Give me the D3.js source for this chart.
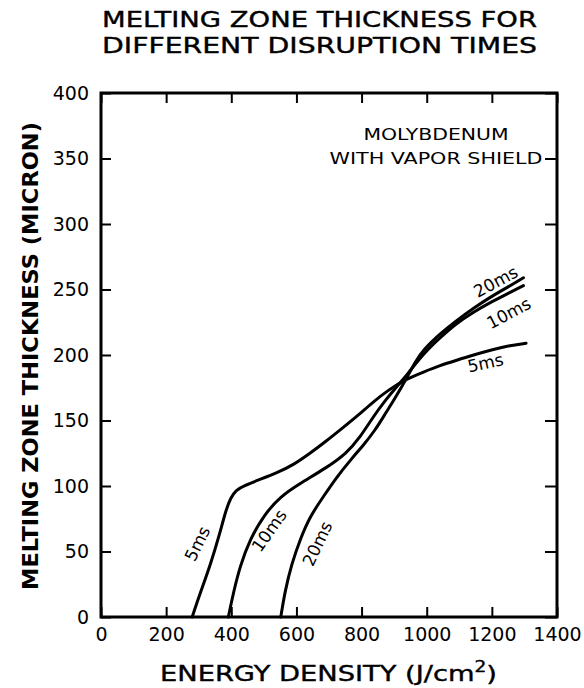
<!DOCTYPE html>
<html>
<head>
<meta charset="utf-8">
<script src="https://cdn.jsdelivr.net/npm/d3@7"></script>
<style>
    body { margin: 0; background: #fff; }
    svg text { font-family: "DejaVu Sans", sans-serif; fill: #000; }
</style>
</head>
<body>
<svg id="chart" width="584" height="688"></svg>
<script>
// data (energy density J/cm2, thickness micron)
const xTicks = [0, 200, 400, 600, 800, 1000, 1200, 1400];
const yTicks = [0, 50, 100, 150, 200, 250, 300, 350, 400];

const energy5 = [280, 304, 335, 365, 384, 398, 415, 437, 488, 540, 590, 642, 690, 740, 785, 835, 880, 940, 990, 1041, 1092, 1143, 1200, 1250, 1305];
const depth5 = [0, 18, 39, 64, 82, 91, 97, 100, 105, 110, 116, 125, 134, 144, 153, 164, 173, 182, 187, 192, 196, 200, 204, 207, 209];

const energy10 = [391, 406, 427, 457, 498, 550, 611, 693, 754, 795, 836, 875, 908, 940, 990, 1040, 1090, 1145, 1194, 1250, 1297];
const depth10 = [0, 18, 39, 59, 77, 92, 102, 114, 125, 137, 153, 166, 176, 185, 201, 213, 224, 233, 240, 247, 253];

const energy20 = [552, 565, 586, 611, 642, 683, 724, 770, 805, 840, 870, 905, 940, 965, 990, 1040, 1090, 1145, 1194, 1250, 1297];
const depth20 = [0, 20, 41, 59, 77, 92, 107, 121, 131, 142, 154, 168, 183, 195, 204, 216, 226, 236, 244, 252, 259];

const seriesNames = ['5ms', '10ms', '20ms'];

// curve labels: [text, energy, depth, angle]
const curveLabels = [
    ['5ms', 296, 56, -64],
    ['10ms', 516, 66, -55],
    ['20ms', 664, 56, -65],
    ['5ms', 1180, 194, -12],
    ['10ms', 1252, 232, -28],
    ['20ms', 1212, 256, -28]
];

const titleLines = ['MELTING ZONE THICKNESS FOR', 'DIFFERENT DISRUPTION TIMES'];
const legendLines = ['MOLYBDENUM', 'WITH VAPOR SHIELD'];

const margin = { top: 93, right: 27, bottom: 71, left: 101 };
const width = 584, height = 688;

const svg = d3.select('#chart');

const x = d3.scaleLinear()
    .domain([0, 1400])
    .range([margin.left, width - margin.right]);

const y = d3.scaleLinear()
    .domain([0, 400])
    .range([height - margin.bottom, margin.top]);

// title
svg.append('g')
    .selectAll('text')
    .data(titleLines)
    .join('text')
        .attr('x', 102)
        .attr('y', (d, i) => 27 + i * 26)
        .attr('textLength', 435)
        .attr('lengthAdjust', 'spacingAndGlyphs')
        .attr('font-size', 22)
        .attr('stroke', '#000')
        .attr('stroke-width', 0.4)
        .text(d => d);

// axes, ticks point inward
const bottomAxis = d3.axisBottom(x).tickValues(xTicks).tickFormat(d3.format('d')).tickSize(-10).tickPadding(11);
const leftAxis = d3.axisLeft(y).tickValues(yTicks).tickFormat(d3.format('d')).tickSize(-10).tickPadding(12);
const topAxis = d3.axisTop(x).tickValues(xTicks).tickSize(-10).tickFormat('');
const rightAxis = d3.axisRight(y).tickValues(yTicks).tickSize(-12).tickFormat('');

const axes = [
    [bottomAxis, `translate(0, ${y(0)})`],
    [leftAxis, `translate(${x(0)}, 0)`],
    [topAxis, `translate(0, ${y(400)})`],
    [rightAxis, `translate(${x(1400)}, 0)`]
];

axes.forEach(([axis, transform]) => {
    const g = svg.append('g')
        .attr('transform', transform)
        .call(axis);
    g.select('.domain').remove();
    g.selectAll('line').attr('stroke', '#000').attr('stroke-width', 2);
    g.selectAll('text')
        .attr('font-size', 19)
        .attr('font-family', '"DejaVu Sans", sans-serif')
        .attr('fill', '#000');
});

// frame
svg.append('rect')
    .attr('x', x(0))
    .attr('y', y(400))
    .attr('width', x(1400) - x(0))
    .attr('height', y(0) - y(400))
    .attr('fill', 'none')
    .attr('stroke', '#000')
    .attr('stroke-width', 3);

// axis titles
const xTitle = svg.append('text')
    .attr('x', 160)
    .attr('y', 681)
    .attr('textLength', 337)
    .attr('lengthAdjust', 'spacingAndGlyphs')
    .attr('font-size', 22)
    .attr('stroke', '#000')
    .attr('stroke-width', 0.4);
xTitle.append('tspan').text('ENERGY DENSITY (J/cm');
xTitle.append('tspan').attr('font-size', 15).attr('dy', -9).text('2');
xTitle.append('tspan').attr('dy', 9).text(')');

svg.append('text')
    .attr('transform', 'translate(38, 590) rotate(-90)')
    .attr('textLength', 468)
    .attr('lengthAdjust', 'spacingAndGlyphs')
    .attr('font-size', 21)
    .attr('font-weight', 'bold')
    .text('MELTING ZONE THICKNESS (MICRON)');

// legend note
svg.append('g')
    .selectAll('text')
    .data(legendLines)
    .join('text')
        .attr('x', 436)
        .attr('y', (d, i) => 140 + i * 24)
        .attr('text-anchor', 'middle')
        .attr('font-size', 16)
        .attr('textLength', (d, i) => i ? 213 : 145)
        .attr('lengthAdjust', 'spacingAndGlyphs')
        .text(d => d);

// curves
const series = [
    d3.zip(energy5, depth5),
    d3.zip(energy10, depth10),
    d3.zip(energy20, depth20)
];

const line = d3.line()
    .x(d => x(d[0]))
    .y(d => y(d[1]))
    .curve(d3.curveBasis);

svg.append('g')
    .selectAll('path')
    .data(series)
    .join('path')
        .attr('class', (d, i) => 'curve-' + seriesNames[i])
        .attr('d', line)
        .attr('fill', 'none')
        .attr('stroke', '#000')
        .attr('stroke-width', 3)
        .attr('stroke-linecap', 'round');

svg.append('g')
    .selectAll('text')
    .data(curveLabels)
    .join('text')
        .attr('transform', d => `translate(${x(d[1])}, ${y(d[2])}) rotate(${d[3]})`)
        .attr('text-anchor', 'middle')
        .attr('dominant-baseline', 'central')
        .attr('font-size', 17)
        .text(d => d[0]);
</script>
</body>
</html>
